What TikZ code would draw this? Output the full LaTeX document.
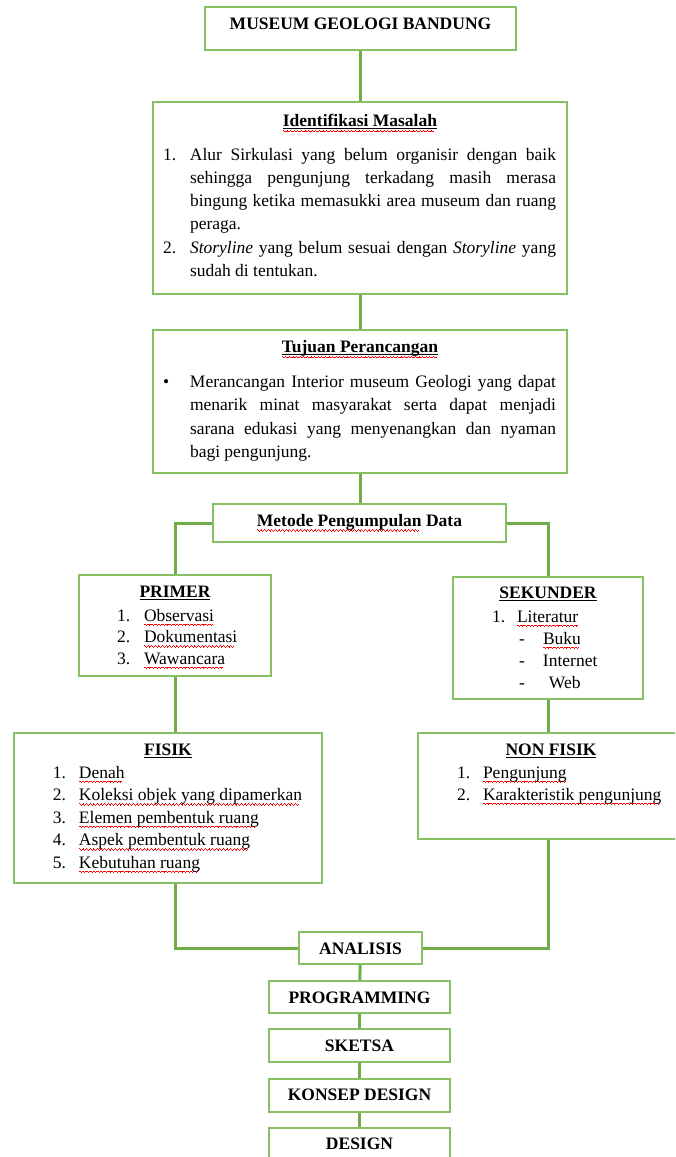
\documentclass[tikz,border=0pt]{standalone}
\usepackage{fontspec}
\setmainfont{Liberation Serif}
\usetikzlibrary{positioning}

\definecolor{linegreen}{RGB}{112,173,71}
\definecolor{boxgreen}{RGB}{135,192,98}

%% underlines and spell-check waves under words
\newsavebox{\wordbox}
\newcommand{\wavebit}{\rule[-3.4pt]{0.9pt}{0.7pt}\rule[-4.1pt]{0.9pt}{0.7pt}\rule[-4.8pt]{0.9pt}{0.7pt}\rule[-4.1pt]{0.9pt}{0.7pt}}
\newcommand{\wave}{\raisebox{0pt}[0pt][0pt]{\textcolor{red}{\leaders\hbox{\wavebit}\hskip\wd\wordbox}}}
\newcommand{\ul}[1]{\leavevmode\sbox{\wordbox}{#1}\rlap{\rule[-2.6pt]{\wd\wordbox}{1pt}}\usebox{\wordbox}}
\newcommand{\sq}[1]{\leavevmode\sbox{\wordbox}{#1}\rlap{\wave}\usebox{\wordbox}}
\newcommand{\usq}[1]{\leavevmode\sbox{\wordbox}{#1}\rlap{\rule[-2.6pt]{\wd\wordbox}{1pt}}\rlap{\raisebox{-1.2pt}{\wave}}\usebox{\wordbox}}

%% box contents: width, height, text (top aligned)
\newcommand{\panel}[3]{\parbox[c][#2pt][t]{#1pt}{#3}}
\newcommand{\ttl}[2]{{\centering\rule{0pt}{#1pt}#2\par}}
\newlength{\labw}
\newcommand{\litem}[2]{\noindent\hangindent=\labw\hangafter=1\makebox[\labw][l]{#1}#2\par}

\tikzset{
    panel/.style = {
      draw=boxgreen, line width=1.5pt, fill=white, inner sep=0pt,
      font=\fontsize{17.5}{22.5}\selectfont,
    },
    link/.style = {
      draw=linegreen, line width=3pt,
    },
}

\begin{document}
\begin{tikzpicture}[x=1pt, y=-1pt]
    \useasboundingbox (0,0) rectangle (675,1157);
    \clip (0,0) rectangle (675,1157);

    %% Main column
    \node [panel] (museum) at (360.5,28.5) {\panel{311}{43}{\ttl{22}{\textbf{MUSEUM GEOLOGI BANDUNG}}}};
    \node [panel] (ident) at (360,198) {\panel{414}{192}{\baselineskip=23.3pt
      \ttl{24}{\textbf{\usq{Identifikasi Masalah}}}
      \vspace{10.7pt}
      \leftskip=10pt \rightskip=11pt \labw=27pt
      \litem{1.}{Alur Sirkulasi yang belum organisir dengan baik\linebreak sehingga pengunjung terkadang masih merasa\linebreak bingung ketika memasukki area museum dan ruang\linebreak peraga.}
      \litem{2.}{\textit{Storyline} yang belum sesuai dengan \textit{Storyline} yang\linebreak sudah di tentukan.}}};
    \node [panel] (tujuan) at (360,401.5) {\panel{414}{143}{\baselineskip=23.5pt
      \ttl{22}{\textbf{\usq{Tujuan Perancangan}}}
      \vspace{11.5pt}
      \leftskip=10pt \rightskip=11pt \labw=27pt
      \litem{\textbullet}{Merancangan Interior museum Geologi yang dapat\linebreak menarik minat masyarakat serta dapat menjadi\linebreak sarana edukasi yang menyenangkan dan nyaman\linebreak bagi pengunjung.}}};
    \node [panel] (metode) at (359.5,523) {\panel{293}{38}{\ttl{22.5}{\textbf{\sq{Metode Pengumpulan} Data}}}};

    %% Two branches
    \node [panel] (primer) at (175,625.5) {\panel{192}{101}{\baselineskip=21.5pt
      \ttl{22}{\textbf{\ul{PRIMER}}}
      \vspace{2.5pt}
      \leftskip=38pt \labw=27pt
      \litem{1.}{\sq{Observasi}}
      \litem{2.}{\sq{Dokumentasi}}
      \litem{3.}{\sq{Wawancara}}}};
    \node [panel] (sekunder) at (548,638) {\panel{190}{122}{\baselineskip=22pt
      \ttl{21}{\textbf{\ul{SEKUNDER}}}
      \vspace{2pt}
      \leftskip=39pt \labw=25pt
      \litem{1.}{\sq{Literatur}}
      \leftskip=66pt \labw=24pt
      \litem{-}{\sq{Buku}}
      \litem{-}{Internet}
      \litem{-}{\hspace*{6pt}Web}}};
    \node [panel] (fisik) at (168,808) {\panel{308}{150}{\baselineskip=22.5pt
      \ttl{22}{\textbf{\ul{FISIK}}}
      \vspace{0.5pt}
      \leftskip=39pt \labw=26pt
      \litem{1.}{\sq{Denah}}
      \litem{2.}{\sq{Koleksi objek yang dipamerkan}}
      \litem{3.}{\sq{Elemen pembentuk ruang}}
      \litem{4.}{\sq{Aspek pembentuk ruang}}
      \litem{5.}{\sq{Kebutuhan ruang}}}};
    \node [panel] (nonfisik) at (551,786) {\panel{266}{106}{\baselineskip=22pt
      \ttl{22}{\textbf{\ul{NON FISIK}}}
      \vspace{1pt}
      \leftskip=39pt \labw=26pt
      \litem{1.}{\sq{Pengunjung}}
      \litem{2.}{\sq{Karakteristik pengunjung}}}};

    %% Design stages
    \node [panel] (analisis) at (360.5,948) {\panel{123}{32}{\ttl{22}{\textbf{ANALISIS}}}};
    \node [panel] (programming) at (359.5,997) {\panel{181}{32}{\ttl{22}{\textbf{PROGRAMMING}}}};
    \node [panel] (sketsa) at (359.5,1045.5) {\panel{181}{33}{\ttl{22.5}{\textbf{SKETSA}}}};
    \node [panel] (konsep) at (359.5,1095.5) {\panel{181}{33}{\ttl{21}{\textbf{KONSEP DESIGN}}}};
    \node [panel] (design) at (359.5,1144.5) {\panel{181}{33}{\ttl{21}{\textbf{DESIGN}}}};

    %% Connectors
    \draw [link] (museum.south) -- (museum.south |- ident.north);
    \draw [link] (ident.south) -- (ident.south |- tujuan.north);
    \draw [link] (tujuan.south) -- (tujuan.south |- metode.north);
    \draw [link] (metode.west) -| (primer.north);
    \draw [link] (metode.east) -| (sekunder.north);
    \draw [link] (primer.south) -- (primer.south |- fisik.north);
    \draw [link] (primer.south |- fisik.south) |- (analisis.west);
    \draw [link] (sekunder.south) -- (sekunder.south |- nonfisik.north);
    \draw [link] (sekunder.south |- nonfisik.south) |- (analisis.east);
    \foreach \a/\b in {analisis/programming, programming/sketsa, sketsa/konsep, konsep/design}{%
      \draw [link] (\a) -- (\b);
    }
\end{tikzpicture}
\end{document}
